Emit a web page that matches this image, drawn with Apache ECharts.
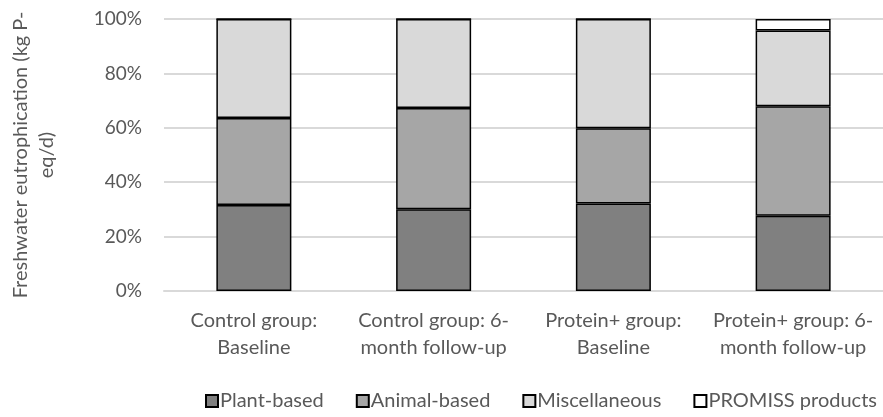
<!DOCTYPE html>
<html>
<head>
<meta charset="utf-8">
<script src="https://cdn.jsdelivr.net/npm/echarts@6/dist/echarts.min.js"></script>
<style>
  html, body { margin: 0; padding: 0; background: #fff; }
  #chart { width: 883px; height: 417px; }
</style>
</head>
<body>
<div id="chart"></div>
<script>
// Share of freshwater eutrophication by food source (%)
const categories = [
  'Control group:\nBaseline',
  'Control group: 6-\nmonth follow-up',
  'Protein+ group:\nBaseline',
  'Protein+ group: 6-\nmonth follow-up'
];
const plantBased    = [31.6, 30.1, 32.2, 27.7];
const animalBased   = [32.0, 37.2, 27.6, 40.2];
const miscellaneous = [36.4, 32.7, 40.2, 27.9];
const promissProducts = [0, 0, 0, 4.2];
const yTicks = [0, 20, 40, 60, 80, 100];

const seriesDefs = [
  { name: 'Plant-based', data: plantBased, color: '#808080' },
  { name: 'Animal-based', data: animalBased, color: '#A6A6A6' },
  { name: 'Miscellaneous', data: miscellaneous, color: '#D9D9D9' },
  { name: 'PROMISS products', data: promissProducts, color: '#FFFFFF' }
];

const FONT = 'Lato, "Liberation Sans", sans-serif';
const TEXT = '#595959';

const chart = echarts.init(document.getElementById('chart'), null, { renderer: 'canvas' });
chart.setOption({
  animation: false,
  backgroundColor: '#fff',
  textStyle: { fontFamily: FONT, color: TEXT },
  grid: { left: 144, right: 0, top: 19, bottom: 126, containLabel: false },
  legend: {
    bottom: 1,
    left: 200,
    right: 0,
    itemWidth: 12,
    itemHeight: 12,
    itemGap: 32,
    icon: 'rect',
    textStyle: { fontFamily: FONT, fontSize: 20, color: TEXT, padding: [0, 0, 0, -3] },
    data: seriesDefs.map(s => s.name)
  },
  xAxis: {
    type: 'category',
    data: categories,
    axisLine: { show: true, lineStyle: { color: '#D9D9D9', width: 2 } },
    axisTick: { show: false },
    axisLabel: {
      interval: 0,
      margin: 16,
      fontFamily: FONT,
      fontSize: 20,
      lineHeight: 27,
      color: TEXT,
      align: 'center'
    }
  },
  yAxis: {
    type: 'value',
    min: yTicks[0],
    max: yTicks[yTicks.length - 1],
    interval: 20,
    name: 'Freshwater eutrophication (kg P-\neq/d)',
    nameLocation: 'middle',
    nameRotate: 90,
    nameGap: 104,
    nameTextStyle: { fontFamily: FONT, fontSize: 20, color: TEXT, lineHeight: 26, align: 'center' },
    axisLine: { show: false },
    axisTick: { show: false },
    splitLine: { lineStyle: { color: '#D9D9D9', width: 2 } },
    axisLabel: {
      formatter: '{value}%',
      margin: 22,
      fontFamily: FONT,
      fontSize: 19,
      color: TEXT
    }
  },
  series: seriesDefs.map(s => ({
    name: s.name,
    type: 'bar',
    stack: 'total',
    barWidth: 75,
    data: s.data,
    itemStyle: { color: s.color, borderColor: '#000', borderWidth: 1.5 },
    emphasis: { disabled: true }
  }))
});
</script>
</body>
</html>
